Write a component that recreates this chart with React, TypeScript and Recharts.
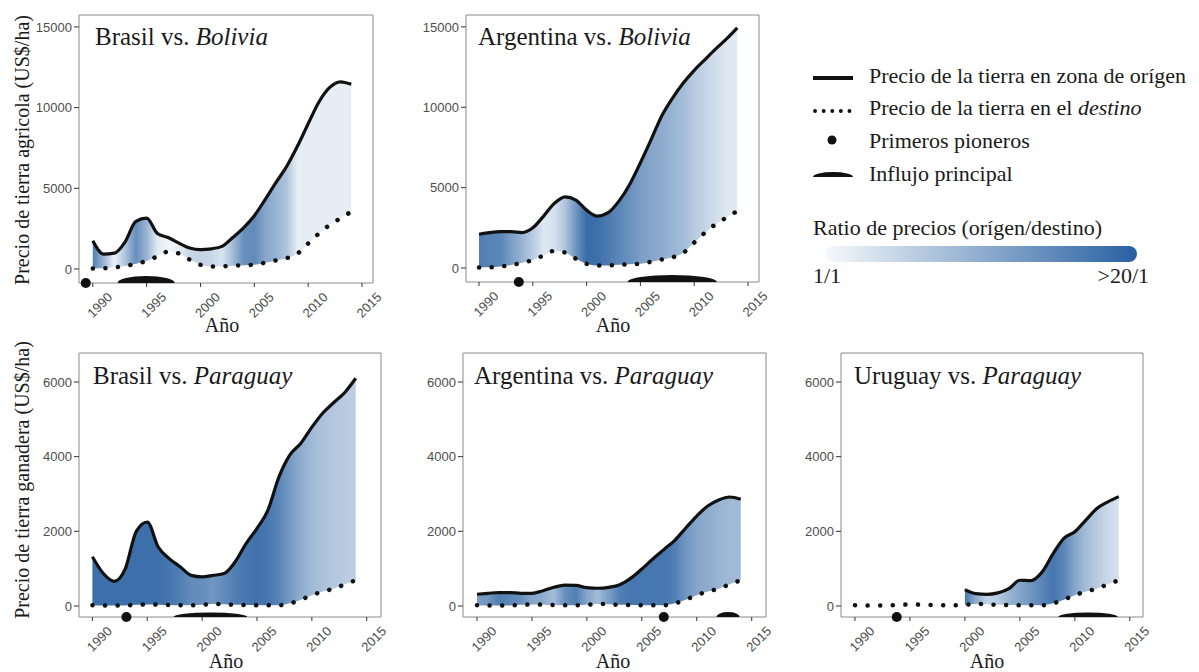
import React from 'react';
import { ComposedChart, Area, Line, XAxis, YAxis, ReferenceArea, ReferenceDot } from 'recharts';

// ---------- data ----------
const YEARS = [1990, 1991, 1992, 1993, 1994, 1995, 1996, 1997, 1998, 1999, 2000, 2001, 2002, 2003, 2004, 2005, 2006, 2007, 2008, 2009, 2010, 2011, 2012, 2013, 2014];
const X_TICKS = [1990, 1995, 2000, 2005, 2010, 2015];
const Y_TICKS_AGRI = [0, 5000, 10000, 15000];
const Y_TICKS_GAN = [0, 2000, 4000, 6000];

// destination prices (dotted)
const BOLIVIA_DEST = [30, 40, 100, 190, 320, 500, 780, 1070, 960, 580, 260, 150, 160, 200, 230, 260, 390, 530, 670, 950, 1580, 2200, 2730, 3140, 3550];
const PARAGUAY_DEST = [20, 15, 15, 15, 30, 40, 35, 25, 20, 20, 30, 55, 45, 30, 25, 20, 20, 20, 70, 170, 290, 390, 465, 580, 690];

// origin prices (solid)
const BRASIL_AGRI = [1750, 920, 980, 1680, 2950, 3150, 2200, 1950, 1600, 1300, 1200, 1250, 1400, 1950, 2550, 3300, 4300, 5350, 6350, 7600, 9000, 10350, 11250, 11600, 11450];
const ARGENTINA_AGRI = [2100, 2200, 2260, 2260, 2200, 2500, 3230, 4020, 4430, 4230, 3600, 3230, 3440, 4160, 5200, 6550, 8000, 9490, 10590, 11520, 12300, 12970, 13630, 14250, 14940];
const BRASIL_GAN = [1320, 870, 660, 1000, 2000, 2250, 1580, 1270, 1050, 820, 780, 820, 870, 1180, 1670, 2080, 2570, 3460, 4050, 4360, 4790, 5170, 5450, 5720, 6100];
const ARGENTINA_GAN = [315, 340, 360, 360, 340, 340, 410, 500, 560, 550, 490, 475, 500, 570, 745, 990, 1260, 1510, 1760, 2090, 2410, 2680, 2840, 2920, 2860];
const URUGUAY_GAN = [null, null, null, null, null, null, null, null, null, null, 440, 330, 310, 350, 465, 690, 680, 900, 1390, 1810, 1990, 2300, 2610, 2790, 2930];

// price ratio origin/destination (fill colour), read from the shading
const RATIO_BRA_BOL = [11, 3.85, 1.15, 2.85, 8, 3.85, 1.35, 1.1, 1.25, 1.95, 2.1, 1.95, 1.55, 3.3, 8, 8.6, 5.2, 3.85, 2.85, 1.27, 1.27, 1.27, 1.27, 1.27, 1.27];
const RATIO_ARG_BOL = [11, 10, 9.5, 6, 3.85, 2.46, 1.43, 1.57, 2.85, 7, 15.7, 14.8, 11.7, 9.5, 7.7, 6, 5.2, 4.5, 3.85, 3.3, 2.46, 2.1, 1.7, 1.43, 1.35];
const RATIO_BRA_PAR = [14.8, 14.8, 14.8, 14.8, 14.8, 14.8, 14.8, 13, 11, 8.6, 8.1, 7, 8.6, 11, 12.8, 14, 12.8, 9.5, 6.4, 4.5, 3.5, 2.95, 2.6, 2.46, 2.3];
const RATIO_ARG_PAR = [6, 7, 11, 9.5, 8, 5.2, 4.5, 3.3, 8, 11, 5.2, 3.3, 6, 11, 12.8, 12.8, 12.8, 12.8, 11, 7, 5.2, 4.5, 3.85, 3.5, 3.5];
const RATIO_URU_PAR = [null, null, null, null, null, null, null, null, null, null, 13, 4.5, 2.1, 2.5, 3.85, 5.2, 7, 9.5, 13, 9.5, 5.2, 3.3, 2.5, 1.9, 1.6];

// first pioneers (year) and main influx (start, end years)
const PIONEERS = [1989.35, 1993.7, 1993.1, 2007.0, 1993.8];
const INFLUX = [[1992.3, 1997.6], [2003.8, 2012.1], [1997.4, 2004.1], [2011.8, 2013.9], [2008.5, 2013.9]];

const ORIGINS = ['Brasil', 'Argentina', 'Brasil', 'Argentina', 'Uruguay'];
const DESTINATIONS = ['Bolivia', 'Bolivia', 'Paraguay', 'Paraguay', 'Paraguay'];
const Y_LABEL_AGRI = 'Precio de tierra agricola (US$/ha)';
const Y_LABEL_GAN = 'Precio de tierra ganadera (US$/ha)';
const X_LABEL = 'Año';
const LEGEND_LINES = ['Precio de la tierra en zona de orígen', 'Precio de la tierra en el ', 'Primeros pioneros', 'Influjo principal'];
const LEGEND_DEST_WORD = 'destino';
const RATIO_TITLE = 'Ratio de precios (orígen/destino)';
const RATIO_MIN_LABEL = '1/1';
const RATIO_MAX_LABEL = '>20/1';

// ---------- styles ----------
const SERIF = "'Liberation Serif', 'Times New Roman', serif";
const SANS = "'Liberation Sans', Arial, Helvetica, sans-serif";
const LIGHT = [246, 249, 252];
const DARK = [40, 96, 161];
const TICK_COLOR = '#4d4d4d';

function ratioColor(r: number) {
  const t = Math.max(0, Math.min(1, Math.log(r) / Math.log(20)));
  const c = LIGHT.map((l, i) => Math.round(l + (DARK[i] - l) * t));
  return `rgb(${c[0]},${c[1]},${c[2]})`;
}

const PANELS = [
  { id: 0, origin: BRASIL_AGRI, dest: BOLIVIA_DEST, ratio: RATIO_BRA_BOL, frame: { l: 79, r: 373, t: 15, b: 283 }, xDomain: [1988.72, 2016.02], yDomain: [-870, 15740], yTicks: Y_TICKS_AGRI, lensRy: 7 },
  { id: 1, origin: ARGENTINA_AGRI, dest: BOLIVIA_DEST, ratio: RATIO_ARG_BOL, frame: { l: 466, r: 759, t: 15, b: 282 }, xDomain: [1988.79, 2016.02], yDomain: [-870, 15740], yTicks: Y_TICKS_AGRI, lensRy: 7 },
  { id: 2, origin: BRASIL_GAN, dest: PARAGUAY_DEST, ratio: RATIO_BRA_PAR, frame: { l: 79, r: 381, t: 353, b: 617 }, xDomain: [1988.78, 2016.3], yDomain: [-295, 6777], yTicks: Y_TICKS_GAN, lensRy: 4.5 },
  { id: 3, origin: ARGENTINA_GAN, dest: PARAGUAY_DEST, ratio: RATIO_ARG_PAR, frame: { l: 463, r: 766, t: 353, b: 617 }, xDomain: [1988.73, 2016.3], yDomain: [-295, 6777], yTicks: Y_TICKS_GAN, lensRy: 5 },
  { id: 4, origin: URUGUAY_GAN, dest: PARAGUAY_DEST, ratio: RATIO_URU_PAR, frame: { l: 841, r: 1143, t: 353, b: 617 }, xDomain: [1988.73, 2016.2], yDomain: [-295, 6777], yTicks: Y_TICKS_GAN, lensRy: 4.5 },
];

const YearTick = (props: any) => {
  const { x, y, payload } = props;
  const cx = x + 7;
  const cy = y + 18;
  return (
    <text x={cx} y={cy} transform={`rotate(-45 ${cx} ${cy})`} textAnchor="middle" dominantBaseline="central" fontSize={13} fill={TICK_COLOR} fontFamily={SANS}>
      {payload.value}
    </text>
  );
};

const makeLens = (ry: number) => (props: any) => {
  const { x, y, width, height } = props;
  const base = y + height;
  return <path d={`M${x},${base} A${width / 2},${ry} 0 0 1 ${x + width},${base} Z`} fill="#111" />;
};

const AXIS_W = 60;
const PAD = 6;
const PAD_R = 30;

function Panel({ cfg }: { cfg: any }) {
  const rows = YEARS.map((year, i) => ({
    year,
    origin: cfg.origin[i],
    dest: cfg.dest[i],
    range: cfg.origin[i] == null ? null : [cfg.dest[i], cfg.origin[i]],
  }));
  const defined = YEARS.filter((_, i) => cfg.origin[i] != null);
  const y0 = defined[0];
  const y1 = defined[defined.length - 1];
  const stops = YEARS.map((yr, i) => (cfg.ratio[i] == null ? null : { off: (yr - y0) / (y1 - y0), color: ratioColor(cfg.ratio[i]) })).filter(Boolean) as any[];
  const f = cfg.frame;
  const width = f.r - f.l + AXIS_W + PAD_R;
  const height = f.b - f.t + PAD + 40;
  const gid = `ratioGrad${cfg.id}`;
  return (
    <div style={{ position: 'absolute', left: f.l - AXIS_W, top: f.t - PAD }}>
      <ComposedChart width={width} height={height} data={rows} margin={{ top: PAD, right: PAD_R, left: 0, bottom: 0 }}>
        <defs>
          <linearGradient id={gid} x1="0" y1="0" x2="1" y2="0">
            {stops.map((s, i) => (
              <stop key={i} offset={s.off} stopColor={s.color} />
            ))}
          </linearGradient>
        </defs>
        <XAxis dataKey="year" type="number" domain={cfg.xDomain} ticks={X_TICKS} interval={0} allowDataOverflow axisLine={false} tickSize={4} tickMargin={0} tickLine={{ stroke: '#333' }} tick={<YearTick />} height={40} />
        <YAxis type="number" domain={cfg.yDomain} ticks={cfg.yTicks} interval={0} allowDataOverflow width={AXIS_W} axisLine={false} tickSize={5} tickMargin={2} tickLine={{ stroke: '#333' }} tick={{ fill: TICK_COLOR, fontSize: 13, fontFamily: SANS }} />
        <ReferenceArea x1={cfg.xDomain[0]} x2={cfg.xDomain[1]} y1={cfg.yDomain[0]} y2={cfg.yDomain[1]} fill="none" fillOpacity={0} stroke="#8a8a8a" strokeWidth={1} ifOverflow="visible" />
        <Area dataKey="range" type="monotone" stroke="none" fill={`url(#${gid})`} fillOpacity={1} isAnimationActive={false} connectNulls={false} activeDot={false} />
        <Line dataKey="dest" type="monotone" stroke="#111" strokeWidth={4.5} strokeLinecap="round" strokeDasharray="0.1 12.5" dot={false} activeDot={false} isAnimationActive={false} />
        <Line dataKey="origin" type="monotone" stroke="#111" strokeWidth={3.2} dot={false} activeDot={false} isAnimationActive={false} connectNulls={false} />
        <ReferenceArea x1={INFLUX[cfg.id][0]} x2={INFLUX[cfg.id][1]} y1={cfg.yDomain[0]} y2={0} ifOverflow="visible" shape={makeLens(cfg.lensRy)} />
        <ReferenceDot x={PIONEERS[cfg.id]} y={cfg.yDomain[0]} r={5} fill="#111" stroke="none" ifOverflow="visible" />
      </ComposedChart>
    </div>
  );
}

const TITLE_POS = [
  { x: 95, y: 45 },
  { x: 478, y: 45 },
  { x: 93, y: 384 },
  { x: 474, y: 384 },
  { x: 854, y: 384 },
];
const XLABEL_POS = [
  { x: 222, y: 332 },
  { x: 613, y: 332 },
  { x: 226, y: 668 },
  { x: 613, y: 668 },
  { x: 987, y: 668 },
];

function Overlay() {
  const legendY = [83, 115, 148, 181];
  return (
    <svg width={1199} height={672} style={{ position: 'absolute', left: 0, top: 0, pointerEvents: 'none' }}>
      <defs>
        <linearGradient id="barGrad" x1="0" y1="0" x2="1" y2="0">
          <stop offset="0" stopColor={ratioColor(1)} />
          <stop offset="0.5" stopColor={ratioColor(Math.sqrt(20))} />
          <stop offset="1" stopColor={ratioColor(20)} />
        </linearGradient>
      </defs>
      {TITLE_POS.map((p, i) => (
        <text key={i} x={p.x} y={p.y} fontFamily={SERIF} fontSize={25} fill="#1a1a1a">
          {ORIGINS[i]} vs. <tspan fontStyle="italic">{DESTINATIONS[i]}</tspan>
        </text>
      ))}
      {XLABEL_POS.map((p, i) => (
        <text key={i} x={p.x} y={p.y} fontFamily={SERIF} fontSize={20} fill="#1a1a1a" textAnchor="middle">
          {X_LABEL}
        </text>
      ))}
      <text x={22} y={150} transform="rotate(-90 22 150)" fontFamily={SERIF} fontSize={20} fill="#1a1a1a" textAnchor="middle" dominantBaseline="central">
        {Y_LABEL_AGRI}
      </text>
      <text x={22} y={480} transform="rotate(-90 22 480)" fontFamily={SERIF} fontSize={20} fill="#1a1a1a" textAnchor="middle" dominantBaseline="central">
        {Y_LABEL_GAN}
      </text>

      {/* legend */}
      <line x1={813} y1={78} x2={853} y2={78} stroke="#111" strokeWidth={4} />
      <line x1={815} y1={111} x2={853} y2={111} stroke="#111" strokeWidth={3.8} strokeLinecap="round" strokeDasharray="0.1 8.5" />
      <circle cx={832} cy={140} r={4.5} fill="#111" />
      <path d="M813,177 A20,5 0 0 1 853,177 Z" fill="#111" />
      {LEGEND_LINES.map((t, i) => (
        <text key={i} x={869} y={legendY[i]} fontFamily={SERIF} fontSize={22} fill="#1a1a1a">
          {t}
          {i === 1 ? <tspan fontStyle="italic">{LEGEND_DEST_WORD}</tspan> : null}
        </text>
      ))}
      <text x={813} y={235} fontFamily={SERIF} fontSize={22} fill="#1a1a1a">
        {RATIO_TITLE}
      </text>
      <rect x={825} y={246} width={312} height={16} rx={8} fill="url(#barGrad)" />
      <text x={813} y={283} fontFamily={SERIF} fontSize={22} fill="#1a1a1a">
        {RATIO_MIN_LABEL}
      </text>
      <text x={1149} y={283} fontFamily={SERIF} fontSize={22} fill="#1a1a1a" textAnchor="end">
        {RATIO_MAX_LABEL}
      </text>
    </svg>
  );
}

export default function App() {
  return (
    <div style={{ position: 'absolute', left: 0, top: 0, width: 1199, height: 672, background: '#fff', overflow: 'hidden' }}>
      {PANELS.map((p) => (
        <Panel key={p.id} cfg={p} />
      ))}
      <Overlay />
    </div>
  );
}
